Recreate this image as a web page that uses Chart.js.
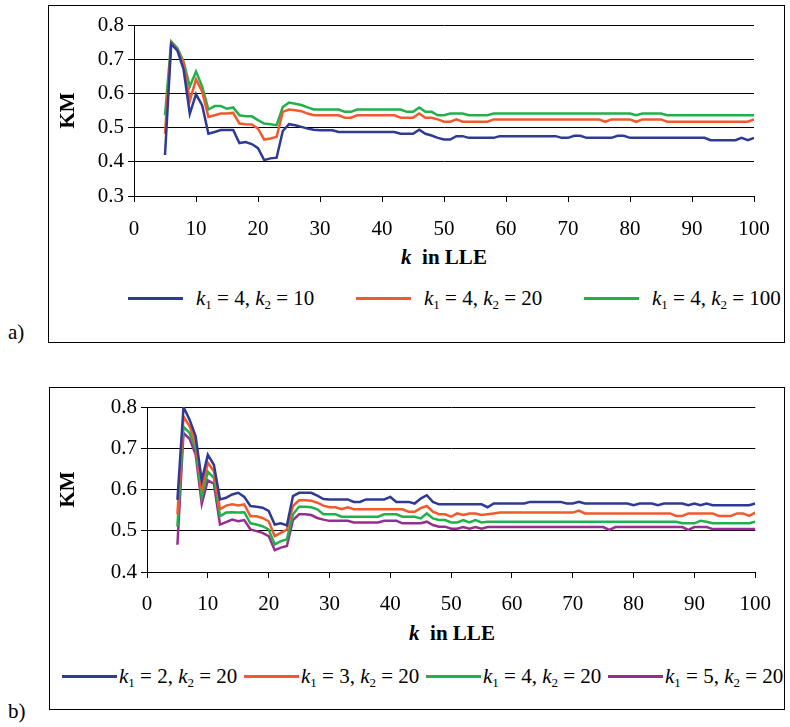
<!DOCTYPE html>
<html>
<head>
<meta charset="utf-8">
<script src="https://cdn.jsdelivr.net/npm/chart.js@4/dist/chart.umd.min.js"></script>
<style>
body { margin: 0; background: #fff; font-family: "Liberation Serif", "Times New Roman", serif; color: #000; }
#page { position: relative; width: 790px; height: 727px; overflow: hidden; }
.box { position: absolute; border: 1.5px solid #000; box-sizing: border-box; }
canvas { position: absolute; }
.xtitle { position: absolute; font-weight: bold; font-size: 21px; transform: translateX(-50%); white-space: nowrap; }
.legend { position: absolute; display: flex; align-items: center; font-size: 21px; white-space: nowrap; }
.legend .item { display: flex; align-items: center; }
.legend .swatch { display: inline-block; height: 2.5px; flex: none; }
.legend sub { font-size: 0.62em; vertical-align: -0.3em; line-height: 0; }
.tag { position: absolute; font-size: 21px; }
</style>
</head>
<body>
<div id="page">
  <div class="box" style="left:48px; top:5px; width:737px; height:338px;"></div>
  <canvas id="chartA" width="737" height="240" style="left:48px; top:5px;"></canvas>
  <div class="xtitle" style="left:444px; top:245px;"><i>k</i>&nbsp; in LLE</div>
  <div class="legend" id="legendA" style="left:128px; top:286px;"></div>
  <div class="tag" style="left:8px; top:320px;">a)</div>

  <div class="box" style="left:49px; top:387px; width:736px; height:323px;"></div>
  <canvas id="chartB" width="736" height="230" style="left:49px; top:390px;"></canvas>
  <div class="xtitle" style="left:452px; top:621px;"><i>k</i>&nbsp; in LLE</div>
  <div class="legend" id="legendB" style="left:62px; top:664px;"></div>
  <div class="tag" style="left:8px; top:699px;">b)</div>
</div>
<script>
// k values (neighbourhood size in LLE)
const kValues = [5, 6, 7, 8, 9, 10, 11, 12, 13, 14, 15, 16, 17, 18, 19, 20, 21, 22, 23, 24,
  25, 26, 27, 28, 29, 30, 31, 32, 33, 34, 35, 36, 37, 38, 39, 40, 41, 42, 43, 44,
  45, 46, 47, 48, 49, 50, 51, 52, 53, 54, 55, 56, 57, 58, 59, 60, 61, 62, 63, 64,
  65, 66, 67, 68, 69, 70, 71, 72, 73, 74, 75, 76, 77, 78, 79, 80, 81, 82, 83, 84,
  85, 86, 87, 88, 89, 90, 91, 92, 93, 94, 95, 96, 97, 98, 99, 100];

// chart a) k1 = 4, k2 varies
const kmA_k2_10 = [0.42, 0.745, 0.725, 0.67, 0.54, 0.598, 0.565, 0.482, 0.487, 0.493,
  0.493, 0.493, 0.455, 0.458, 0.452, 0.44, 0.405, 0.41, 0.412, 0.49,
  0.51, 0.507, 0.502, 0.497, 0.494, 0.492, 0.492, 0.492, 0.487, 0.487,
  0.487, 0.487, 0.487, 0.487, 0.487, 0.487, 0.487, 0.487, 0.482, 0.482,
  0.482, 0.494, 0.482, 0.477, 0.47, 0.465, 0.465, 0.475, 0.475, 0.47,
  0.47, 0.47, 0.47, 0.47, 0.475, 0.475, 0.475, 0.475, 0.475, 0.475,
  0.475, 0.475, 0.475, 0.475, 0.47, 0.47, 0.476, 0.476, 0.47, 0.47,
  0.47, 0.47, 0.47, 0.476, 0.476, 0.47, 0.47, 0.47, 0.47, 0.47,
  0.47, 0.47, 0.47, 0.47, 0.47, 0.47, 0.47, 0.47, 0.463, 0.463,
  0.463, 0.463, 0.463, 0.47, 0.463, 0.47];
const kmA_k2_20 = [0.482, 0.747, 0.727, 0.688, 0.578, 0.641, 0.605, 0.531, 0.536, 0.541,
  0.541, 0.543, 0.512, 0.51, 0.509, 0.497, 0.465, 0.468, 0.473, 0.546,
  0.553, 0.551, 0.548, 0.541, 0.536, 0.536, 0.536, 0.536, 0.536, 0.529,
  0.529, 0.536, 0.536, 0.536, 0.536, 0.536, 0.536, 0.536, 0.529, 0.529,
  0.529, 0.541, 0.529, 0.529, 0.524, 0.517, 0.517, 0.524, 0.517, 0.517,
  0.517, 0.517, 0.517, 0.524, 0.524, 0.524, 0.524, 0.524, 0.524, 0.524,
  0.524, 0.524, 0.524, 0.524, 0.524, 0.524, 0.524, 0.524, 0.524, 0.524,
  0.524, 0.517, 0.524, 0.524, 0.524, 0.524, 0.517, 0.524, 0.524, 0.524,
  0.524, 0.517, 0.517, 0.517, 0.517, 0.517, 0.517, 0.517, 0.517, 0.517,
  0.517, 0.517, 0.517, 0.517, 0.517, 0.524];
const kmA_k2_100 = [0.536, 0.752, 0.732, 0.693, 0.62, 0.664, 0.62, 0.553, 0.563, 0.563,
  0.555, 0.559, 0.536, 0.533, 0.533, 0.522, 0.512, 0.51, 0.507, 0.56,
  0.573, 0.57, 0.566, 0.559, 0.553, 0.553, 0.553, 0.553, 0.553, 0.546,
  0.546, 0.553, 0.553, 0.553, 0.553, 0.553, 0.553, 0.553, 0.553, 0.546,
  0.546, 0.559, 0.546, 0.546, 0.536, 0.536, 0.541, 0.541, 0.541, 0.536,
  0.536, 0.536, 0.536, 0.541, 0.541, 0.541, 0.541, 0.541, 0.541, 0.541,
  0.541, 0.541, 0.541, 0.541, 0.541, 0.541, 0.541, 0.541, 0.541, 0.541,
  0.541, 0.541, 0.541, 0.541, 0.541, 0.541, 0.536, 0.541, 0.541, 0.541,
  0.541, 0.536, 0.536, 0.536, 0.536, 0.536, 0.536, 0.536, 0.536, 0.536,
  0.536, 0.536, 0.536, 0.536, 0.536, 0.536];

// chart b) k2 = 20, k1 varies
const kmB_k1_2 = [0.575, 0.80, 0.769, 0.729, 0.622, 0.684, 0.66, 0.576, 0.58, 0.588,
  0.592, 0.582, 0.56, 0.558, 0.556, 0.548, 0.515, 0.518, 0.513, 0.584,
  0.592, 0.592, 0.592, 0.585, 0.577, 0.576, 0.576, 0.576, 0.576, 0.57,
  0.57, 0.576, 0.576, 0.576, 0.576, 0.582, 0.57, 0.57, 0.57, 0.566,
  0.578, 0.586, 0.57, 0.564, 0.564, 0.564, 0.564, 0.564, 0.564, 0.564,
  0.564, 0.557, 0.566, 0.566, 0.566, 0.566, 0.566, 0.566, 0.57, 0.57,
  0.57, 0.57, 0.57, 0.57, 0.566, 0.566, 0.57, 0.566, 0.566, 0.566,
  0.566, 0.566, 0.566, 0.566, 0.566, 0.562, 0.566, 0.566, 0.566, 0.562,
  0.566, 0.566, 0.566, 0.566, 0.562, 0.566, 0.562, 0.566, 0.562, 0.562,
  0.562, 0.562, 0.562, 0.562, 0.562, 0.566];
const kmB_k1_3 = [0.54, 0.777, 0.753, 0.713, 0.602, 0.665, 0.644, 0.552, 0.561, 0.564,
  0.561, 0.564, 0.535, 0.535, 0.531, 0.523, 0.487, 0.495, 0.503, 0.56,
  0.574, 0.574, 0.573, 0.568, 0.561, 0.557, 0.557, 0.552, 0.557, 0.552,
  0.552, 0.552, 0.552, 0.552, 0.552, 0.552, 0.552, 0.552, 0.546, 0.546,
  0.555, 0.56, 0.546, 0.54, 0.54, 0.534, 0.542, 0.538, 0.542, 0.542,
  0.538, 0.54, 0.542, 0.544, 0.544, 0.544, 0.544, 0.544, 0.544, 0.544,
  0.544, 0.544, 0.544, 0.544, 0.544, 0.544, 0.549, 0.542, 0.542, 0.542,
  0.542, 0.542, 0.542, 0.542, 0.542, 0.542, 0.542, 0.542, 0.542, 0.542,
  0.542, 0.542, 0.536, 0.536, 0.542, 0.542, 0.542, 0.542, 0.542, 0.536,
  0.536, 0.536, 0.542, 0.542, 0.536, 0.544];
const kmB_k1_4 = [0.51, 0.752, 0.737, 0.698, 0.582, 0.643, 0.628, 0.535, 0.544, 0.545,
  0.544, 0.545, 0.518, 0.515, 0.511, 0.503, 0.467, 0.475, 0.479, 0.54,
  0.558, 0.558, 0.557, 0.552, 0.54, 0.54, 0.54, 0.534, 0.534, 0.534,
  0.534, 0.534, 0.534, 0.534, 0.54, 0.54, 0.54, 0.534, 0.534, 0.534,
  0.53, 0.542, 0.53, 0.526, 0.526, 0.52, 0.52, 0.526, 0.52, 0.526,
  0.52, 0.522, 0.522, 0.522, 0.522, 0.522, 0.522, 0.522, 0.522, 0.522,
  0.522, 0.522, 0.522, 0.522, 0.522, 0.522, 0.522, 0.522, 0.522, 0.522,
  0.522, 0.522, 0.522, 0.522, 0.522, 0.522, 0.522, 0.522, 0.522, 0.522,
  0.522, 0.522, 0.522, 0.518, 0.518, 0.518, 0.524, 0.522, 0.518, 0.518,
  0.518, 0.518, 0.518, 0.518, 0.518, 0.522];
const kmB_k1_5 = [0.466, 0.737, 0.723, 0.685, 0.565, 0.622, 0.614, 0.515, 0.521, 0.527,
  0.523, 0.526, 0.503, 0.499, 0.495, 0.487, 0.453, 0.459, 0.463, 0.526,
  0.54, 0.54, 0.538, 0.531, 0.527, 0.524, 0.524, 0.524, 0.524, 0.52,
  0.52, 0.52, 0.52, 0.52, 0.524, 0.524, 0.524, 0.518, 0.518, 0.518,
  0.518, 0.522, 0.514, 0.51, 0.51, 0.505, 0.505, 0.509, 0.505, 0.509,
  0.505, 0.509, 0.509, 0.509, 0.509, 0.509, 0.509, 0.509, 0.509, 0.509,
  0.509, 0.509, 0.509, 0.509, 0.509, 0.509, 0.509, 0.509, 0.509, 0.509,
  0.509, 0.502, 0.509, 0.509, 0.509, 0.509, 0.509, 0.509, 0.509, 0.509,
  0.509, 0.509, 0.509, 0.509, 0.502, 0.509, 0.509, 0.509, 0.504, 0.504,
  0.504, 0.504, 0.504, 0.504, 0.504, 0.504];

const legendA_k1 = [4, 4, 4];
const legendA_k2 = [10, 20, 100];
const legendB_k1 = [2, 3, 4, 5];
const legendB_k2 = [20, 20, 20, 20];

const colors = ['#2e3a94', '#f2592b', '#22b04b', '#962d91'];
const serif = '"Liberation Serif", "Times New Roman", serif';

function toPoints(values) {
  return values.map((v, i) => ({ x: kValues[i], y: v }));
}

function makeChart(id, seriesList, k1s, k2s, yMin, yMax, geo) {
  const datasets = seriesList.map((vals, i) => ({
    label: 'k\u2081 = ' + k1s[i] + ', k\u2082 = ' + k2s[i],
    data: toPoints(vals),
    borderColor: colors[i],
    borderWidth: 2.5,
    pointRadius: 0,
    tension: 0,
    fill: false
  }));
  return new Chart(document.getElementById(id), {
    type: 'line',
    data: { datasets },
    options: {
      responsive: false,
      animation: false,
      devicePixelRatio: 1,
      layout: { padding: { left: 0, top: geo.top, right: geo.right, bottom: 0 } },
      plugins: { legend: { display: false }, tooltip: { enabled: false } },
      scales: {
        x: {
          type: 'linear', min: 0, max: 100,
          afterFit: s => { s.height = geo.xh; },
          ticks: { stepSize: 10, color: '#000', font: { family: serif, size: 21 }, padding: geo.xp, maxRotation: 0 },
          grid: { drawOnChartArea: false, drawTicks: true, tickLength: 6, color: '#000' },
          border: { color: '#000', width: 1 }
        },
        y: {
          min: yMin, max: yMax,
          afterFit: s => { s.width = geo.yw; },
          ticks: { stepSize: 0.1, color: '#000', font: { family: serif, size: 21 }, padding: 4,
            callback: v => v.toFixed(1) },
          grid: { color: '#000', lineWidth: 1, tickLength: 6 },
          border: { color: '#000', width: 1 },
          title: { display: true, text: 'KM', color: '#000', font: { family: serif, size: 21, weight: 'bold' },
            padding: { top: geo.tp, bottom: 0 } }
        }
      }
    }
  });
}

function buildLegend(chart, elId, k1s, k2s, itemW, swatchW, swatchGap) {
  const el = document.getElementById(elId);
  chart.data.datasets.forEach((ds, i) => {
    const item = document.createElement('div');
    item.className = 'item';
    item.style.width = itemW + 'px';
    const sw = document.createElement('span');
    sw.className = 'swatch';
    sw.style.width = swatchW + 'px';
    sw.style.background = ds.borderColor;
    sw.style.marginRight = swatchGap + 'px';
    const txt = document.createElement('span');
    txt.innerHTML = '<i>k</i><sub>1</sub> = ' + k1s[i] + ', <i>k</i><sub>2</sub> = ' + k2s[i];
    item.appendChild(sw);
    item.appendChild(txt);
    el.appendChild(item);
  });
}

const chartA = makeChart('chartA', [kmA_k2_10, kmA_k2_20, kmA_k2_100], legendA_k1, legendA_k2, 0.3, 0.8,
  { top: 20, right: 31, xh: 49, xp: 15, yw: 86, tp: 8 });
const chartB = makeChart('chartB', [kmB_k1_2, kmB_k1_3, kmB_k1_4, kmB_k1_5], legendB_k1, legendB_k2, 0.4, 0.8,
  { top: 17, right: 28, xh: 48, xp: 14, yw: 98, tp: 7 });

buildLegend(chartA, 'legendA', legendA_k1, legendA_k2, 228, 55, 13);
buildLegend(chartB, 'legendB', legendB_k1, legendB_k2, 182, 55, 2);
</script>
</body>
</html>
